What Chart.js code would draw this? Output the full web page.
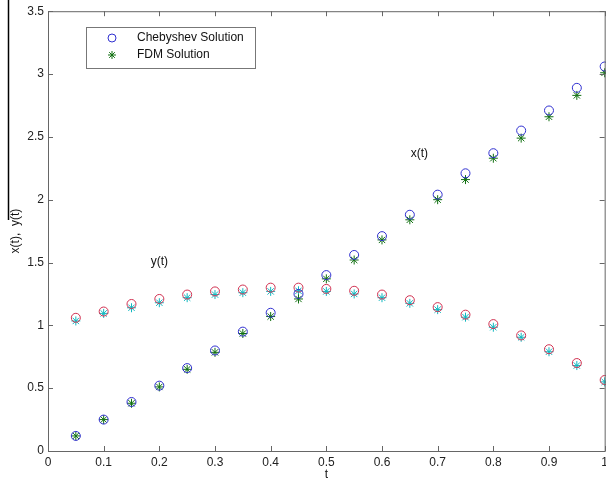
<!DOCTYPE html>
<html lang="en">
<head>
<meta charset="UTF-8" />
<title>Chebyshev vs FDM</title>
<script src="https://cdn.jsdelivr.net/npm/chart.js"></script>
<style>
    html, body { margin: 0; padding: 0; background: #fff; overflow: hidden; }
    canvas { display: block; }
</style>
</head>
<body>
<canvas id="grafico" width="612" height="486"></canvas>

<script>
    // t values and the two solutions for x(t) and y(t)
    const t = [0.05, 0.1, 0.15, 0.2, 0.25, 0.3, 0.35, 0.4, 0.45, 0.5,
               0.55, 0.6, 0.65, 0.7, 0.75, 0.8, 0.85, 0.9, 0.95, 1.0];
    const xCheb = [0.12, 0.25, 0.39, 0.52, 0.66, 0.80, 0.95, 1.10, 1.25, 1.40,
                   1.56, 1.71, 1.88, 2.04, 2.21, 2.37, 2.55, 2.71, 2.89, 3.06];
    const xFdm  = [0.12, 0.25, 0.38, 0.51, 0.65, 0.785, 0.935, 1.07, 1.21, 1.37,
                   1.52, 1.68, 1.84, 2.00, 2.16, 2.33, 2.49, 2.66, 2.83, 3.01];
    const yCheb = [1.06, 1.11, 1.17, 1.21, 1.245, 1.27, 1.285, 1.30, 1.30, 1.29,
                   1.275, 1.245, 1.20, 1.145, 1.085, 1.01, 0.92, 0.81, 0.70, 0.565];
    const yFdm  = [1.035, 1.095, 1.14, 1.18, 1.22, 1.245, 1.26, 1.27, 1.275, 1.27,
                   1.25, 1.22, 1.175, 1.125, 1.065, 0.985, 0.905, 0.79, 0.68, 0.55];

    const xTicks = [0, 0.1, 0.2, 0.3, 0.4, 0.5, 0.6, 0.7, 0.8, 0.9, 1];
    const yTicks = [0, 0.5, 1, 1.5, 2, 2.5, 3, 3.5];

    const legendLabels = ["Chebyshev Solution", "FDM Solution"];
    const notes = [{ text: "x(t)", t: 0.667, v: 2.37 }, { text: "y(t)", t: 0.2, v: 1.51 }];

    const FONT = "'Liberation Sans', Arial, sans-serif";
    const pares = (ys) => t.map((tv, i) => ({ x: tv, y: ys[i] }));
    const etiqueta = (v) => String(Math.round(v * 10) / 10);

    // MATLAB-like frame: box, inward ticks, text labels and legend
    const marcoMatlab = {
        id: "marcoMatlab",
        afterDraw(chart) {
            const { ctx, chartArea: a, scales } = chart;
            const sx = scales.x, sy = scales.y;
            ctx.save();
            ctx.strokeStyle = "#666";
            ctx.lineWidth = 1;
            ctx.strokeRect(a.left + 0.5, a.top + 0.5, a.right - a.left, a.bottom - a.top);

            ctx.beginPath();
            xTicks.forEach(v => {
                const px = Math.round(sx.getPixelForValue(v)) + 0.5;
                ctx.moveTo(px, a.bottom); ctx.lineTo(px, a.bottom - 5);
                ctx.moveTo(px, a.top); ctx.lineTo(px, a.top + 5);
            });
            yTicks.forEach(v => {
                const py = Math.round(sy.getPixelForValue(v)) + 0.5;
                ctx.moveTo(a.left, py); ctx.lineTo(a.left + 5, py);
                ctx.moveTo(a.right, py); ctx.lineTo(a.right - 5, py);
            });
            ctx.stroke();

            // stray line at the left edge
            ctx.strokeStyle = "#000";
            ctx.lineWidth = 1.5;
            ctx.beginPath();
            ctx.moveTo(8.5, 0); ctx.lineTo(8.5, 220);
            ctx.stroke();

            ctx.fillStyle = "#111";
            ctx.font = "12px " + FONT;
            ctx.textAlign = "center";
            ctx.textBaseline = "middle";
            notes.forEach(n => {
                ctx.fillText(n.text, sx.getPixelForValue(n.t), sy.getPixelForValue(n.v));
            });

            // legend
            ctx.strokeStyle = "#777";
            ctx.lineWidth = 1;
            ctx.strokeRect(86.5, 27.5, 169, 41);
            const ds = chart.data.datasets;
            [0, 1].forEach((k, i) => {
                const d = ds[k];
                const y = 38 + i * 17;
                ctx.strokeStyle = d.borderColor;
                ctx.fillStyle = "rgba(0,0,0,0)";
                Chart.helpers.drawPoint(ctx, { pointStyle: d.pointStyle, radius: 4, borderWidth: 1, rotation: 0 }, 112, y);
                ctx.fillStyle = "#111";
                ctx.textAlign = "left";
                ctx.fillText(legendLabels[i], 137, y);
            });
            ctx.restore();
        }
    };

    new Chart(document.getElementById("grafico"), {
        type: "scatter",
        data: {
            datasets: [
                { label: "Chebyshev x", data: pares(xCheb), pointStyle: "circle", borderColor: "#3030d0", backgroundColor: "transparent" },
                { label: "FDM x", data: pares(xFdm), pointStyle: "star", borderColor: "#107010", backgroundColor: "transparent" },
                { label: "Chebyshev y", data: pares(yCheb), pointStyle: "circle", borderColor: "#d03050", backgroundColor: "transparent" },
                { label: "FDM y", data: pares(yFdm), pointStyle: "star", borderColor: "#10b8c0", backgroundColor: "transparent" }
            ].map(d => Object.assign(d, { pointRadius: 4.5, pointBorderWidth: 1, pointHoverRadius: 4.5, clip: false }))
        },
        options: {
            responsive: false,
            animation: false,
            layout: { padding: { top: 10, right: 5, left: 0, bottom: 0 } },
            plugins: { legend: { display: false }, tooltip: { enabled: false } },
            scales: {
                x: {
                    type: "linear", min: 0, max: 1,
                    afterBuildTicks: (s) => { s.ticks = xTicks.map(v => ({ value: v })); },
                    afterFit: (s) => { s.height = 35; },
                    grid: { display: false, drawTicks: false },
                    border: { display: false },
                    ticks: { padding: 4, color: "#222", font: { size: 12, family: FONT }, maxRotation: 0, autoSkip: false, callback: etiqueta },
                    title: { display: true, text: "t", color: "#111", font: { size: 12, family: FONT }, padding: { top: 0, bottom: 4 } }
                },
                y: {
                    type: "linear", min: 0, max: 3.5,
                    afterBuildTicks: (s) => { s.ticks = yTicks.map(v => ({ value: v })); },
                    afterFit: (s) => { s.width = 48; },
                    grid: { display: false, drawTicks: false },
                    border: { display: false },
                    ticks: { padding: 4, color: "#222", font: { size: 12, family: FONT }, autoSkip: false, callback: etiqueta },
                    title: { display: true, text: "x(t),  y(t)", color: "#111", font: { size: 12, family: FONT }, padding: { top: 8, bottom: 0 } }
                }
            }
        },
        plugins: [marcoMatlab]
    });
</script>
</body>
</html>
